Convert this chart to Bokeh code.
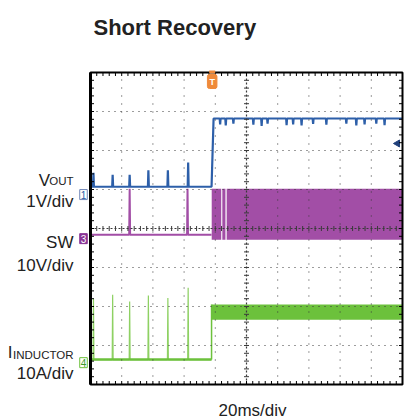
import numpy as np
from bokeh.plotting import figure
from bokeh.models import Label, Range1d
from bokeh.embed import file_html
from bokeh.resources import INLINE

# ---------------- data read from the scope capture ----------------
# horizontal: 20 ms/div, 10 divisions; vertical: 8 divisions
t_min, t_max = -100.0, 100.0
div_min, div_max = -4.0, 4.0

# channel ground offsets (screen divisions) and scales (units / div)
ch1_offset, ch1_scale = 0.87, 1.0     # VOUT, 1 V/div
ch3_offset, ch3_scale = -0.26, 10.0   # SW, 10 V/div
ch4_offset, ch4_scale = -3.44, 10.0   # I_INDUCTOR, 10 A/div

t_recover = -22.4          # ms, short removed / output recovers
t_rise_end = -21.1         # ms, VOUT reaches regulation
t_trigger = -22.0          # ms, trigger marker position

# hiccup pulses while the output is shorted
pulse_t = [-98.1, -85.8, -74.9, -62.9, -50.4, -37.4]      # ms
vout_pulse = [0.56, 0.51, 0.51, 0.62, 0.62, 0.82]          # V
il_pulse = [16.3, 17.4, 15.7, 17.2, 16.6, 19.2]            # A
sw_pulse_t = [-74.9, -37.8]                                # ms
sw_pulse_v = [12.8, 12.8]                                  # V

# VOUT levels
vout_short = 0.20          # V
vout_reg = 1.95            # V
vout_glitch_t = [-16.9, -13.3, -8.4, 4.4, 9.7, 13.5, 25.7, 29.9, 35.3,
                 42.7, 51.2, 64.0, 70.4, 75.7, 83.2, 88.5]
vout_glitch_v = [1.80, 1.77, 1.82, 1.79, 1.76, 1.82, 1.78, 1.80, 1.77,
                 1.81, 1.79, 1.82, 1.77, 1.80, 1.82, 1.78]
trig_level_v = 1.31        # V (trigger level arrow, right edge)

# SW node
sw_idle = 1.0              # V
sw_low, sw_high = -0.3, 12.8
sw_burst_start = [-22.3, -15.5, -12.7]
sw_burst_end = [-16.2, -13.5, 100.0]

# inductor current
il_short = 0.8             # A
il_valley, il_peak = 11.0, 14.9

# ---------------- styling / layout ----------------
BLUE = "#2d5fa9"
PURPLE = "#a24ea6"
GREEN = "#6cc13c"
GREEN_SPIKE = "#8ed163"
ORANGE = "#ef8a3a"
TXT = "#222222"
FONT = "Liberation Sans"

W, H = 404, 419
# scope screen occupies canvas pixels x 90..402, y 72..384
SX0, SX1, SY0, SY1 = 90, 402, 72, 384
px_x = (t_max - t_min) / (SX1 - SX0)
px_y = (div_max - div_min) / (SY1 - SY0)
x_lo = t_min - SX0 * px_x
x_hi = t_max + (W - SX1) * px_x
y_hi = div_max + SY0 * px_y
y_lo = div_min - (H - SY1) * px_y

p = figure(width=W, height=H, output_backend="svg", toolbar_location=None,
           x_axis_type=None, y_axis_type=None,
           x_range=Range1d(x_lo, x_hi), y_range=Range1d(y_lo, y_hi),
           min_border=0)
p.outline_line_color = None
p.background_fill_color = "white"
p.border_fill_color = "white"


def xd(img_x):
    return (img_x - SX0) * px_x + t_min


def yd(img_y):
    return div_max - (img_y - SY0) * px_y


def pulse_line(t0, t1, base, ts, vs, w=0.35):
    xs, ys = [t0], [base]
    for t, v in zip(ts, vs):
        xs += [t - w, t, t + w]
        ys += [base, v, base]
    xs.append(t1)
    ys.append(base)
    return np.array(xs), np.array(ys)


# ---- SW (ch3) ----
for a, b in zip(sw_burst_start, sw_burst_end):
    p.quad(left=a, right=b, bottom=ch3_offset + sw_low / ch3_scale,
           top=ch3_offset + sw_high / ch3_scale,
           fill_color=PURPLE, line_color=None)
sx, sy = pulse_line(t_min, t_recover, sw_idle, sw_pulse_t, sw_pulse_v, w=0.3)
p.line(sx, ch3_offset + sy / ch3_scale, line_color=PURPLE, line_width=2)

# ---- inductor current (ch4) ----
ix, iy = pulse_line(t_min, t_recover, il_short, pulse_t, il_pulse, w=0.3)
p.line(ix, ch4_offset + iy / ch4_scale, line_color=GREEN_SPIKE, line_width=1.2)
p.line([t_min, t_recover], [ch4_offset + il_short / ch4_scale] * 2,
       line_color=GREEN, line_width=2.5)
p.line([t_recover, t_recover],
       [ch4_offset + il_short / ch4_scale, ch4_offset + il_peak / ch4_scale],
       line_color=GREEN, line_width=1.5)
p.quad(left=t_recover, right=t_max, bottom=ch4_offset + il_valley / ch4_scale,
       top=ch4_offset + il_peak / ch4_scale, fill_color=GREEN, line_color=None)

# ---- VOUT (ch1) ----
vx, vy = pulse_line(t_min, t_recover, vout_short, pulse_t, vout_pulse, w=0.3)
hx, hy = pulse_line(t_rise_end, t_max, vout_reg, vout_glitch_t, vout_glitch_v, w=0.3)
bx = np.concatenate([vx, hx])
by = np.concatenate([vy, hy])
p.line(bx, ch1_offset + by / ch1_scale, line_color=BLUE, line_width=2.2)

# trigger level arrow on the right edge
p.scatter([t_max - 5 * px_x], [ch1_offset + trig_level_v / ch1_scale],
          marker="triangle", angle=np.pi / 2, size=7,
          fill_color="#1f3f7a", line_color="#1f3f7a")

# ---- graticule ----
GRID = "#3a3a3a"
xg = np.arange(t_min + 20, t_max, 20)
xg = xg[np.abs(xg) > 1e-9]
yg = np.arange(div_min + 1, div_max, 1.0)
yg = yg[np.abs(yg) > 1e-9]
p.segment(x0=xg, x1=xg, y0=div_min, y1=div_max, line_color=GRID,
          line_width=1, line_dash="1 7")
p.segment(x0=t_min, x1=t_max, y0=yg, y1=yg, line_color=GRID,
          line_width=1, line_dash="1 5")
# centre cross
p.segment(x0=[0], x1=[0], y0=[div_min], y1=[div_max], line_color=GRID,
          line_width=1.2, line_dash="2 2")
p.segment(x0=[t_min], x1=[t_max], y0=[0], y1=[0], line_color=GRID,
          line_width=1.2, line_dash="2 2")
mx = np.arange(t_min, t_max + 1e-9, 4.0)
my = np.arange(div_min, div_max + 1e-9, 0.2)
tk = 2.5
p.segment(x0=mx, x1=mx, y0=-tk * px_y, y1=tk * px_y, line_color=GRID, line_width=1)
p.segment(x0=-tk * px_x, x1=tk * px_x, y0=my, y1=my, line_color=GRID, line_width=1)
# edge ticks (inward)
te = 3.5
p.segment(x0=mx, x1=mx, y0=div_max, y1=div_max - te * px_y, line_color="black", line_width=1)
p.segment(x0=mx, x1=mx, y0=div_min, y1=div_min + te * px_y, line_color="black", line_width=1)
p.segment(x0=t_min, x1=t_min + te * px_x, y0=my, y1=my, line_color="black", line_width=1)
p.segment(x0=t_max, x1=t_max - te * px_x, y0=my, y1=my, line_color="black", line_width=1)

# screen border
p.quad(left=[t_min], right=[t_max], bottom=[div_min], top=[div_max],
       fill_color=None, line_color="black", line_width=2)
p.segment(x0=[t_min], x1=[t_min], y0=[div_min], y1=[div_max],
          line_color="black", line_width=3)

# ---- trigger marker (top) ----
p.add_layout(Label(x=t_trigger, y=div_max - 9 * px_y, text="T",
                   text_font=FONT, text_font_size="9px", text_font_style="bold",
                   text_color="white", text_align="center", text_baseline="middle",
                   background_fill_color=ORANGE, border_line_color=ORANGE,
                   padding=2, border_radius=2))
p.quad(left=[t_trigger - 3 * px_x], right=[t_trigger + 3 * px_x],
       bottom=[div_max - 1 * px_y], top=[div_max + 2 * px_y],
       fill_color=ORANGE, line_color=None)

# ---- channel markers (left) ----
mk_x = t_min - 7 * px_x
p.add_layout(Label(x=mk_x, y=ch1_offset, text="1", text_font=FONT,
                   text_font_size="10px", text_color=BLUE, text_align="center",
                   text_baseline="middle", background_fill_color="white",
                   border_line_color="#6f86b8", padding=1))
p.add_layout(Label(x=mk_x, y=ch3_offset, text="3", text_font=FONT,
                   text_font_size="10px", text_color="white", text_align="center",
                   text_baseline="middle", background_fill_color="#8a3596",
                   border_line_color="#8a3596", padding=1))
p.add_layout(Label(x=mk_x, y=ch4_offset, text="4", text_font=FONT,
                   text_font_size="10px", text_color="#3a9a2a", text_align="center",
                   text_baseline="middle", background_fill_color="white",
                   border_line_color=GREEN, padding=1))


# ---- texts ----
def lab(x, y, text, size, align="right", style="normal"):
    p.add_layout(Label(x=x, y=y, text=text, text_font=FONT, text_font_size=size,
                       text_font_style=style, text_color=TXT, text_align=align,
                       text_baseline="alphabetic"))


lab(xd(93), yd(26.7), "Short Recovery", "22px", align="left", style="bold")
lab(xd(49.5), yd(180), "V", "17px")
lab(xd(73), yd(180.5), "OUT", "11.5px")
lab(xd(73), yd(201), "1V/div", "17px")
lab(xd(73), yd(241.7), "SW", "17px")
lab(xd(73), yd(265), "10V/div", "17px")
lab(xd(12), yd(351.7), "I", "17px")
lab(xd(73), yd(354), "INDUCTOR", "11.5px")
lab(xd(73), yd(372.7), "10A/div", "17px")
lab(xd(252), yd(410), "20ms/div", "17px", align="center")

open("out.html", "w").write(file_html(p, INLINE))
